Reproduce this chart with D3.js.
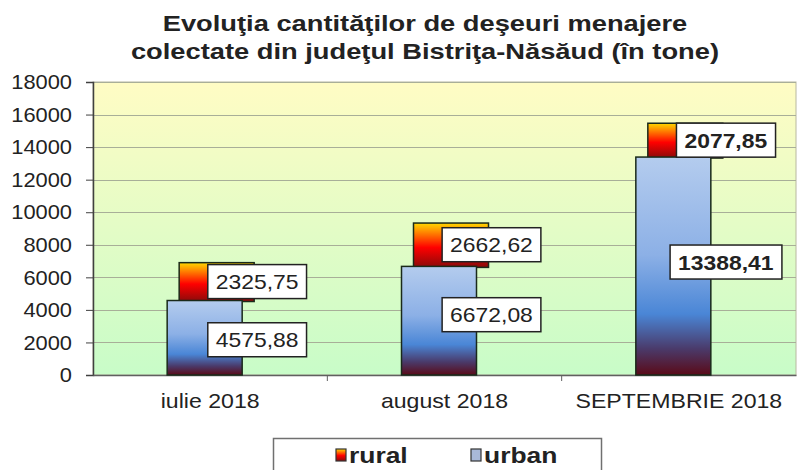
<!DOCTYPE html>
<html><head><meta charset="utf-8">
<script src="https://cdn.jsdelivr.net/npm/d3@7"></script>
<style>body{margin:0;background:#fff}svg{display:block}text{font-family:"Liberation Sans",Arial,sans-serif}</style>
</head><body>
<svg id="c" width="797" height="470"></svg>
<script>
const categories = ["iulie 2018", "august 2018", "SEPTEMBRIE 2018"];
const urban = [4575.88, 6672.08, 13388.41];
const rural = [2325.75, 2662.62, 2077.85];
const yTicks = [0, 2000, 4000, 6000, 8000, 10000, 12000, 14000, 16000, 18000];
const titleLines = ["Evoluţia cantităţilor de deşeuri menajere", "colectate din judeţul Bistriţa-Năsăud (în tone)"];
const seriesNames = ["rural", "urban"];

(function(){
const svg = d3.select("#c");
const defs = svg.append("defs");
const pL = 93, pR = 796, pT = 82, pB = 375;

// widen text horizontally (reference glyphs are a little stretched)
function stretch(sel, k){
  sel.each(function(){
    const w = this.getComputedTextLength();
    d3.select(this).attr("textLength", w*k).attr("lengthAdjust","spacingAndGlyphs");
  });
}

const x = d3.scaleBand().domain(categories).range([pL, pR]);
const y = d3.scaleLinear().domain([0, 18000]).range([pB, pT]);

// gradients
const bg = defs.append("linearGradient").attr("id","bg").attr("x1",0).attr("y1",0).attr("x2",0).attr("y2",1);
bg.append("stop").attr("offset","0%").attr("stop-color","#fffcc4");
bg.append("stop").attr("offset","100%").attr("stop-color","#c8fcc8");
const gr = defs.append("linearGradient").attr("id","gr").attr("x1",0).attr("y1",0).attr("x2",0).attr("y2",1);
gr.append("stop").attr("offset","0%").attr("stop-color","#ffd800");
gr.append("stop").attr("offset","55%").attr("stop-color","#ff0000");
gr.append("stop").attr("offset","100%").attr("stop-color","#8a0a0a");
const gu = defs.append("linearGradient").attr("id","gu").attr("x1",0).attr("y1",0).attr("x2",0).attr("y2",1);
gu.append("stop").attr("offset","0%").attr("stop-color","#b4ccee");
gu.append("stop").attr("offset","45%").attr("stop-color","#8cb0e6");
gu.append("stop").attr("offset","72%").attr("stop-color","#4a86d6");
gu.append("stop").attr("offset","88%").attr("stop-color","#4a3a6a");
gu.append("stop").attr("offset","100%").attr("stop-color","#5a0a18");

// plot background
svg.append("rect").attr("x",pL).attr("y",pT).attr("width",pR-pL).attr("height",pB-pT).attr("fill","url(#bg)").attr("stroke","#b8b8a0").attr("stroke-width",1);

// gridlines
svg.append("g").selectAll("line").data(yTicks.filter(d=>d>0)).join("line")
  .attr("x1",pL).attr("x2",pR).attr("y1",d=>Math.round(y(d))+0.5).attr("y2",d=>Math.round(y(d))+0.5)
  .attr("stroke","#a8ae98").attr("stroke-width",1);

// y axis
const ya = svg.append("g").attr("transform",`translate(${pL},0)`)
  .call(d3.axisLeft(y).tickValues(yTicks).tickFormat(d3.format("d")).tickSize(7).tickPadding(14));
ya.select(".domain").attr("stroke","#404040").attr("stroke-width",1.5);
ya.selectAll(".tick line").attr("stroke","#404040");
ya.selectAll("text").attr("font-size",21).attr("fill","#222").attr("font-family","Liberation Sans, Arial, sans-serif");
stretch(ya.selectAll("text"), 1.04);

// x axis
const xa = svg.append("g").attr("transform",`translate(0,${pB})`)
  .call(d3.axisBottom(x).tickSize(0).tickPadding(18));
xa.select(".domain").attr("stroke","#606060").attr("stroke-width",1.5);
xa.selectAll("text").attr("font-size",21).attr("fill","#222").attr("font-family","Liberation Sans, Arial, sans-serif");
stretch(xa.selectAll("text"), 1.1);
svg.append("g").selectAll("line").data(categories.slice(1)).join("line")
  .attr("x1",d=>x(d)).attr("x2",d=>x(d)).attr("y1",pB).attr("y2",pB+6).attr("stroke","#606060");

const bw = 75;
const ruralOff = -31, urbanOff = -43;
const data = categories.map((c,i)=>({c, u: urban[i], r: rural[i]}));
const cx = c => x(c) + x.bandwidth()/2;

// rural (behind, offset)
svg.append("g").selectAll("rect").data(data).join("rect")
  .attr("x",d=>cx(d.c)+ruralOff).attr("width",bw)
  .attr("y",d=>y(d.u+d.r)).attr("height",d=>y(d.u)-y(d.u+d.r)+1)
  .attr("fill","url(#gr)").attr("stroke","#1a2a1a").attr("stroke-width",1.5);
// urban
svg.append("g").selectAll("rect").data(data).join("rect")
  .attr("x",d=>cx(d.c)+urbanOff).attr("width",bw)
  .attr("y",d=>y(d.u)).attr("height",d=>y(0)-y(d.u))
  .attr("fill","url(#gu)").attr("stroke","#1a2a1a").attr("stroke-width",1.5);

// labels
const fmt = v => d3.format(".2f")(v).replace(".",",");
function label(xc, yc, txt, bold){
  const g = svg.append("g");
  const t = g.append("text").attr("x",xc).attr("y",yc).attr("text-anchor","middle").attr("dominant-baseline","central")
    .attr("font-size",21).attr("font-weight",bold?"bold":"normal").attr("fill","#222").text(txt);
  stretch(t, 1.09);
  const bb = t.node().getBBox();
  g.insert("rect","text").attr("x",bb.x-8).attr("y",yc-17).attr("width",bb.width+16).attr("height",34)
    .attr("fill","#fff").attr("stroke","#222").attr("stroke-width",1.5);
}
data.forEach((d,i)=>{
  const bold = i===2;
  label(cx(d.c)+47, (y(d.u)+y(d.u+d.r))/2, fmt(d.r), bold);
  label(cx(d.c)+47, (y(0)+y(d.u))/2 - (i===1?6:(i===2?4:-2)), fmt(d.u), bold);
});

// title
const tt = svg.append("g").selectAll("text").data(titleLines).join("text")
  .attr("x",425).attr("y",(d,i)=>31+i*28).attr("text-anchor","middle")
  .attr("font-size",22).attr("font-weight","bold").attr("fill","#222").text(d=>d);
stretch(tt, 1.24);

// legend
svg.append("rect").attr("x",273.5).attr("y",438.5).attr("width",328).attr("height",40)
  .attr("fill","#fff").attr("stroke","#707070").attr("stroke-width",1.5);
const lg = svg.append("g").selectAll("g").data(seriesNames).join("g")
  .attr("transform",(d,i)=>`translate(${i===0?336:471},0)`);
lg.append("rect").attr("x",0).attr("y",449).attr("width",10).attr("height",12)
  .attr("fill",(d,i)=>i===0?"url(#gr)":"#a8b8d8").attr("stroke","#333").attr("stroke-width",1.2);
const lt = lg.append("text").attr("x",13).attr("y",463).attr("font-size",22).attr("font-weight","bold").attr("fill","#222").text(d=>d);
stretch(lt, 1.2);
})();
</script>
</body></html>
